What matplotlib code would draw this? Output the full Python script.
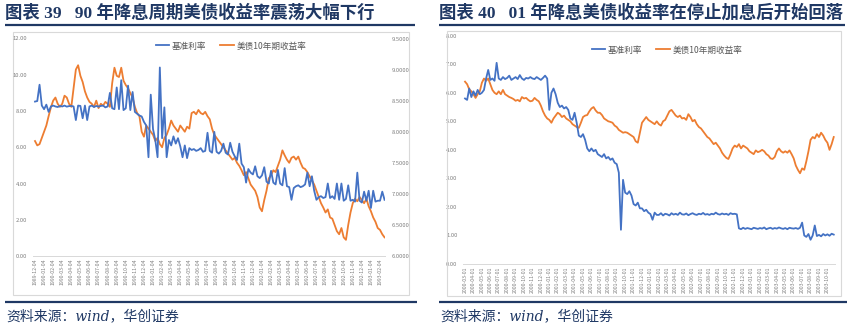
import numpy as np
import pandas as pd
import matplotlib
matplotlib.use('Agg')
import matplotlib.pyplot as plt
from matplotlib.lines import Line2D
from matplotlib.patches import Rectangle

plt.rcParams['font.family'] = ['Noto Sans CJK SC', 'DejaVu Sans']

W, H = 852, 332
NAVY = '#1F3864'
BLUE = '#4472C4'
ORANGE = '#ED7D31'
GREY = '#7F7F7F'
FRAME = '#D9D9D9'

# ---- 图表39：1989-12 ~ 1993-02，周度数据（每月4个点）----
left_title = '图表 39   90 年降息周期美债收益率震荡大幅下行'
left_labels = pd.date_range('1989-12-01', '1993-02-01', freq='MS').strftime('%Y-%m-04')

left_fed = [
    8.52, 8.55, 9.45, 8.30,  8.10, 8.35, 7.95, 8.25,  8.30, 8.25, 8.22, 8.28,
    8.25, 8.30, 8.24, 8.27,  8.28, 8.25, 7.50, 8.30,  8.28, 7.60, 8.30, 7.50,
    8.25, 8.30, 8.22, 8.28,  8.24, 8.28, 8.30, 8.20,  8.25, 9.00, 8.15, 8.10,
    9.30, 8.10, 9.70, 8.05,  8.15, 9.40, 8.05, 9.05,  7.95, 7.85, 7.75, 7.70,
    7.40, 7.20, 5.45, 8.90,  7.00, 6.40, 5.45, 10.40, 6.50, 8.20, 5.45, 6.40,
    6.10, 6.60, 6.20, 6.50,  6.05, 5.45, 6.10, 5.40,  5.95, 5.85, 5.90, 5.80,
    5.85, 5.95, 5.75, 5.80,  6.80, 5.80, 5.70, 6.85,  5.75, 5.65, 5.80, 6.20,
    5.70, 5.60, 6.25, 5.75,  5.50, 5.30, 6.20, 5.10,  4.90, 4.05, 4.80, 4.60,
    4.50, 4.95, 4.40, 4.30,  4.45, 4.90, 4.10, 4.00,  4.70, 4.05, 3.95, 4.75,
    4.00, 3.90, 4.85, 3.85,  3.80, 3.10, 3.75, 3.85,  3.90, 3.80, 3.85, 3.95,
    4.60, 3.85, 4.40, 3.60,  3.10, 3.25, 3.30, 3.20,  3.25, 4.00, 3.20, 3.30,
    3.15, 4.00, 3.10, 4.00,  3.05, 3.15, 3.90, 3.05,  3.10, 3.00, 4.60, 3.05,
    2.95, 3.55, 3.05, 3.60,  2.65, 3.60, 3.00, 3.05,  3.05, 3.55, 3.10,
]
left_ust10 = [
    7.85, 7.78, 7.80, 7.90,  8.00, 8.10, 8.25, 8.39,  8.50, 8.55, 8.45, 8.40,
    8.45, 8.58, 8.55, 8.45,  8.40, 8.70, 9.00, 9.07,  8.90, 8.80, 8.65, 8.55,
    8.48, 8.45, 8.40, 8.50,  8.38, 8.45, 8.42, 8.48,  8.45, 8.40, 8.78, 9.03,
    8.90, 8.88, 9.03, 8.82,  8.75, 8.70, 8.62, 8.55,  8.40, 8.30, 8.25, 8.00,
    7.92, 8.10, 8.05, 8.00,  7.95, 7.85, 7.90, 7.80,  7.75, 7.90, 7.95, 8.05,
    8.18, 8.10, 8.05, 8.00,  8.10, 8.05, 8.00, 8.08,  8.05, 8.30, 8.32, 8.28,
    8.35, 8.30, 8.28, 8.32,  8.25, 8.20, 8.05, 7.95,  7.90, 7.85, 7.80, 7.75,
    7.70, 7.65, 7.60, 7.55,  7.58, 7.50, 7.45, 7.38,  7.30, 7.35, 7.25, 7.15,
    7.10, 7.05, 6.95, 6.78,  6.72, 6.90, 7.05, 7.25,  7.30, 7.38, 7.35, 7.45,
    7.55, 7.70, 7.62, 7.55,  7.50, 7.58, 7.60, 7.55,  7.60, 7.50, 7.42, 7.40,
    7.35, 7.28, 7.22, 7.15,  7.05, 6.95, 6.85, 6.78,  6.70, 6.75, 6.62, 6.60,
    6.50, 6.40, 6.35, 6.45,  6.30, 6.26, 6.50, 6.70,  6.85, 6.92, 6.88, 6.95,
    6.90, 6.85, 6.92, 6.80,  6.72, 6.62, 6.55, 6.45,  6.42, 6.35, 6.30,
]

# ---- 图表40：2000-03 ~ 2003-10，周度数据（每月4个点）----
right_title = '图表 40   01 年降息美债收益率在停止加息后开始回落'
right_labels = pd.date_range('2000-03-01', '2003-10-01', freq='MS').strftime('%Y-%m-%d')

right_fed = [
    5.80, 5.75, 6.15, 5.85,  6.05, 5.90, 6.10, 5.95,  6.00, 6.10, 6.50, 6.80,
    6.45, 6.50, 6.42, 7.05,  6.50, 6.45, 6.55, 6.48,  6.52, 6.60, 6.45, 6.50,
    6.55, 6.48, 6.62, 6.50,  6.45, 6.52, 6.50, 6.55,  6.50, 6.48, 6.55, 6.50,
    6.45, 6.52, 6.60, 6.50,  5.40, 6.00, 6.15, 5.95,  5.65, 5.50, 5.55, 5.45,
    5.50, 5.40, 5.10, 5.05,  5.30, 4.95, 4.50, 4.45,  4.55, 4.35, 4.05, 3.95,
    4.05, 3.95, 4.00, 3.85,  3.80, 3.75, 3.85, 3.70,  3.75, 3.65, 3.70, 3.55,
    3.50, 3.20, 1.20, 2.95,  2.50, 2.45, 2.55, 2.40,  2.10, 2.05, 2.15, 1.95,
    1.95, 1.85, 1.90, 1.80,  1.75, 1.55, 1.80, 1.72,  1.72, 1.78, 1.70, 1.76,
    1.74, 1.70, 1.78, 1.73,  1.76, 1.72, 1.80, 1.74,  1.73, 1.77, 1.71, 1.75,
    1.78, 1.74, 1.72, 1.76,  1.74, 1.79, 1.73, 1.75,  1.72, 1.76, 1.74, 1.80,
    1.75, 1.73, 1.77, 1.74,  1.76, 1.72, 1.78, 1.75,  1.76, 1.74, 1.25, 1.22,
    1.27, 1.23, 1.26, 1.24,  1.22, 1.27, 1.25, 1.23,  1.26, 1.24, 1.28, 1.22,
    1.25, 1.27, 1.23, 1.26,  1.24, 1.28, 1.25, 1.23,  1.26, 1.22, 1.27, 1.25,
    1.24, 1.26, 1.23, 1.27,  1.45, 1.00, 0.95, 1.05,  0.85, 1.00, 1.35, 0.98,
    1.02, 0.97, 1.05, 1.00,  1.04, 0.99, 1.06, 1.03,
]
right_ust10 = [
    6.39, 6.30, 6.12, 6.05,  5.95, 5.82, 5.95, 6.05,  6.35, 6.50, 6.42, 6.50,
    6.30, 6.10, 6.00, 5.95,  6.05, 5.95, 6.10, 5.95,  5.90, 5.85, 5.82, 5.78,
    5.72, 5.75, 5.70, 5.85,  5.80, 5.82, 5.75, 5.70,  5.72, 5.82, 5.75, 5.70,
    5.55, 5.35, 5.20, 5.10,  5.05, 4.95, 5.10, 5.20,  5.30, 5.25, 5.15, 5.20,
    5.10, 5.05, 5.00, 4.90,  4.85, 4.80, 4.77, 4.95,  5.15, 5.20, 5.22, 5.35,
    5.45, 5.50, 5.38, 5.30,  5.30, 5.22, 5.10, 5.05,  5.00, 4.98, 4.95, 4.85,
    4.80, 4.70, 4.65, 4.60,  4.62, 4.60, 4.55, 4.50,  4.45, 4.30, 4.25, 4.60,
    4.95, 5.05, 5.15, 5.05,  5.00, 4.95, 4.90, 5.00,  4.90, 4.85, 5.00, 5.05,
    5.20, 5.35, 5.40, 5.30,  5.20, 5.15, 5.20, 5.10,  5.12, 5.05, 5.25, 5.15,
    5.00, 5.05, 4.90, 4.80,  4.75, 4.65, 4.55, 4.45,  4.40, 4.30, 4.20, 4.25,
    4.15, 4.05, 3.90, 3.80,  3.72, 3.68, 3.85, 4.05,  4.15, 4.10, 4.20, 4.05,
    4.15, 4.10, 4.05, 3.95,  3.90, 3.85, 3.98, 3.92,  3.95, 4.00, 3.95, 3.85,
    3.80, 3.70, 3.68, 3.75,  3.95, 4.05, 3.95, 3.90,  3.95, 3.90, 3.98, 3.85,
    3.70, 3.45, 3.30, 3.18,  3.35, 3.30, 3.60, 3.95,  4.35, 4.45, 4.40, 4.55,
    4.45, 4.60, 4.50, 4.35,  4.25, 4.00, 4.20, 4.45,
]

series_names = ['基准利率', '美债10年期收益率']

fig = plt.figure(figsize=(W / 100, H / 100), dpi=100)


def box(x0, y0, x1, y1):
    return [x0 / W, 1 - y1 / H, (x1 - x0) / W, (y1 - y0) / H]


def hline(x0, x1, y, lw):
    fig.add_artist(Line2D([x0 / W, x1 / W], [1 - y / H, 1 - y / H],
                          lw=lw, color=NAVY, solid_capstyle='butt'))


def style_axis(ax, fmt):
    ax.tick_params(axis='both', length=0, labelsize=4.2, labelcolor=GREY)
    for s in ['top', 'right', 'left']:
        ax.spines[s].set_visible(False)
    ax.spines['bottom'].set_color(FRAME)
    ax.spines['bottom'].set_linewidth(0.7)
    ax.yaxis.set_major_formatter(plt.FormatStrFormatter(fmt))


def date_axis(ax, labels):
    ax.set_xticks(np.arange(len(labels)))
    ax.set_xticklabels(labels, rotation=90, fontsize=3.7, color=GREY)
    ax.tick_params(axis='x', pad=2)


def decorate(x0, x1, frame, title, src_x):
    fig.text(x0 / W, 1 - 13 / H, title, ha='left', va='center', fontsize=12.5,
             fontweight='bold', color=NAVY,
             family=['Liberation Serif', 'Noto Sans CJK SC'])
    hline(x0, x1, 25, 1.6)
    fig.add_artist(Rectangle((frame[0] / W, 1 - frame[3] / H),
                             (frame[2] - frame[0]) / W, (frame[3] - frame[1]) / H,
                             transform=fig.transFigure, fill=False,
                             edgecolor=FRAME, lw=0.8))
    hline(x0, x1 + 2, 301.5, 1.6)
    fig.text(src_x / W, 1 - 316 / H, '资料来源：wind，华创证券', ha='left',
             va='center', fontsize=10, style='italic', color=NAVY,
             family=['DejaVu Serif', 'Noto Sans CJK SC'])


# ---------------- 左图 ----------------
decorate(5, 415, (13, 32, 409, 295), left_title, 6)
axL = fig.add_axes(box(33, 38.5, 385, 256))
xl = np.arange(len(left_fed)) / 4
twL = axL.twinx()
twL.plot(xl, left_ust10, color=ORANGE, lw=1.3)
axL.plot(xl, left_fed, color=BLUE, lw=1.3)
axL.set_zorder(twL.get_zorder() + 1)
axL.patch.set_visible(False)
axL.set_ylim(0, 12)
axL.set_yticks(np.arange(0, 12.1, 2))
twL.set_ylim(6, 9.5)
twL.set_yticks(np.arange(6, 9.51, 0.5))
axL.set_xlim(-0.22, 38.55)
style_axis(axL, '%.2f')
style_axis(twL, '%.4f')
axL.tick_params(axis='y', pad=4)
twL.tick_params(axis='y', pad=5)
date_axis(axL, left_labels)
handles = [Line2D([], [], color=BLUE, lw=1.3), Line2D([], [], color=ORANGE, lw=1.3)]
fig.legend(handles, series_names, loc='center', ncol=2, frameon=False,
           bbox_to_anchor=(231 / W, 1 - 46 / H), fontsize=6.2,
           labelcolor='#595959', handlelength=1.6, handletextpad=0.3,
           columnspacing=1.6)

# ---------------- 右图 ----------------
decorate(439, 845, (447, 31, 841, 296), right_title, 440)
axR = fig.add_axes(box(463, 35.7, 835, 264))
xr = np.arange(len(right_fed)) / 4
axR.plot(xr, right_ust10, color=ORANGE, lw=1.3)
axR.plot(xr, right_fed, color=BLUE, lw=1.3)
axR.set_ylim(0, 8)
axR.set_yticks(np.arange(0, 8.1, 1))
axR.set_xlim(-0.24, 43.9)
style_axis(axR, '%.2f')
axR.tick_params(axis='y', pad=4)
date_axis(axR, right_labels)
fig.legend(handles, series_names, loc='center', ncol=2, frameon=False,
           bbox_to_anchor=(667 / W, 1 - 50 / H), fontsize=6.2,
           labelcolor='#595959', handlelength=1.6, handletextpad=0.3,
           columnspacing=1.6)

fig.savefig('out.png', dpi=100, facecolor='white')
